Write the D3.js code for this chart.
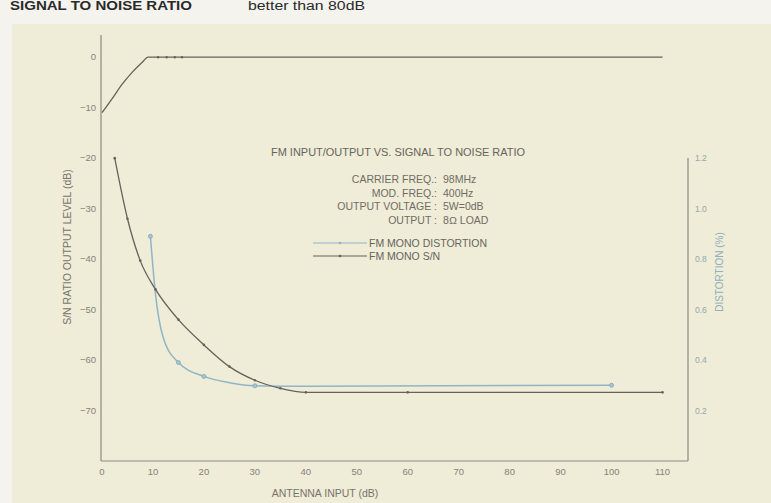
<!DOCTYPE html>
<html><head><meta charset="utf-8">
<script src="https://cdn.jsdelivr.net/npm/d3@7"></script>
<style>body{margin:0;background:#f4f3ee;} svg{display:block;}</style>
</head><body>
<script>
// ---- data ----
const xTicks = [0,10,20,30,40,50,60,70,80,90,100,110];
const yLeftTicks = [0,-10,-20,-30,-40,-50,-60,-70];
const yRightTicks = [0.2,0.4,0.6,0.8,1.0,1.2];

const ioX = [0,2,4,6,8,9,12,15,20,110];
const ioY = [-11,-8.2,-5.3,-2.9,-0.9,0,0,0,0,0];
const ioMarkX = [11,12.7,14.3,15.7];

const snX = [2.5,5,7.5,10.5,15,20,25,30,35,40,60,110];
const snY = [-20,-32,-40.3,-46,-52,-57,-61.3,-64,-65.6,-66.4,-66.4,-66.4];
const snMarkX = [2.5,5,7.5,10.5,15,20,25,30,35,40,60,110];

const distX = [9.5,10.5,12,15,20,25,30,40,100];
const distY = [0.89,0.66,0.49,0.39,0.335,0.31,0.298,0.296,0.3];
const distMarkX = [9.5,15,20,30,100];

const legendLabels = ["FM MONO DISTORTION","FM MONO S/N"];
const infoLabels = ["CARRIER FREQ.:","MOD. FREQ.:","OUTPUT VOLTAGE :","OUTPUT :"];
const infoValues = ["98MHz","400Hz","5W=0dB","8\u2126 LOAD"];

const W=771,H=503;
const svg=d3.select("body").append("svg").attr("width",W).attr("height",H);
const font="'Liberation Sans Narrow','Liberation Sans',Arial,sans-serif";

svg.append("rect").attr("width",W).attr("height",H).attr("fill","#f4f3ee");
svg.append("rect").attr("x",12).attr("y",24).attr("width",W-12).attr("height",H-24).attr("fill","#efecd7");

// header
svg.append("text").attr("x",10).attr("y",10).attr("font-family","'Liberation Sans',Arial,sans-serif")
  .attr("font-weight","bold").attr("font-size",12).attr("fill","#2a2a2a")
  .attr("textLength",182).attr("lengthAdjust","spacingAndGlyphs").text("SIGNAL TO NOISE RATIO");
svg.append("text").attr("x",248).attr("y",10).attr("font-family","'Liberation Sans',Arial,sans-serif")
  .attr("font-size",12).attr("fill","#2a2a2a")
  .attr("textLength",117).attr("lengthAdjust","spacingAndGlyphs").text("better than 80dB");

const x=d3.scaleLinear().domain([0,115]).range([102,688]);
const yL=d3.scaleLinear().domain([-80,4.4]).range([461,35]);
const yR=d3.scaleLinear().domain([0,1.2]).range([461,158]);

const axisCol="#8c8a80", labCol="#86837a", snCol="#67625b", blue="#8fb6c6";

const g=svg.append("g");
g.append("line").attr("x1",x(0)-1).attr("x2",x(0)-1).attr("y1",yL(4.4)).attr("y2",461).attr("stroke",axisCol).attr("stroke-width",1.2);
g.append("line").attr("x1",x(0)-1).attr("x2",x(115)).attr("y1",461).attr("y2",461).attr("stroke",axisCol).attr("stroke-width",1.2);
g.append("line").attr("x1",x(115)).attr("x2",x(115)).attr("y1",yR(1.2)).attr("y2",461).attr("stroke",axisCol).attr("stroke-width",1.2);

g.selectAll(".xt").data(xTicks).enter().append("text")
  .attr("x",d=>x(d)).attr("y",475).attr("text-anchor","middle")
  .attr("font-family",font).attr("font-size",9.5).attr("fill",labCol).text(d=>d);
g.selectAll(".yl").data(yLeftTicks).enter().append("text")
  .attr("x",96).attr("y",d=>yL(d)+3).attr("text-anchor","end")
  .attr("font-family",font).attr("font-size",9.5).attr("fill",labCol).text(d=>d===0?"0":"\u2212"+Math.abs(d));
g.selectAll(".yr").data(yRightTicks).enter().append("text")
  .attr("x",695).attr("y",d=>yR(d)+3).attr("text-anchor","start")
  .attr("font-family",font).attr("font-size",8.5).attr("fill","#94a8ae").text(d=>d.toFixed(1));

svg.append("text").attr("transform","translate(71,247) rotate(-90)").attr("text-anchor","middle")
  .attr("font-family",font).attr("font-size",10.5).attr("fill","#77746b").text("S/N RATIO OUTPUT LEVEL (dB)");
svg.append("text").attr("transform","translate(723,272) rotate(-90)").attr("text-anchor","middle")
  .attr("font-family",font).attr("font-size",10).attr("fill","#8fb0bd").text("DISTORTION (%)");
svg.append("text").attr("x",325).attr("y",497).attr("text-anchor","middle")
  .attr("font-family",font).attr("font-size",10.5).attr("fill","#77746b").text("ANTENNA INPUT (dB)");

const lineL=d3.line().x(d=>x(d[0])).y(d=>yL(d[1])).curve(d3.curveMonotoneX);
const lineR=d3.line().x(d=>x(d[0])).y(d=>yR(d[1])).curve(d3.curveMonotoneX);
const io=ioX.map((v,i)=>[v,ioY[i]]);
const sn=snX.map((v,i)=>[v,snY[i]]);
const dist=distX.map((v,i)=>[v,distY[i]]);

svg.append("path").attr("d",lineL(io)).attr("fill","none").attr("stroke",snCol).attr("stroke-width",1.3);
svg.append("path").attr("d",lineR(dist)).attr("fill","none").attr("stroke",blue).attr("stroke-width",1.5);
svg.append("path").attr("d",lineL(sn)).attr("fill","none").attr("stroke",snCol).attr("stroke-width",1.3);

svg.selectAll(".iom").data(ioMarkX).enter().append("circle")
  .attr("cx",d=>x(d)).attr("cy",yL(0)).attr("r",1.2).attr("fill",snCol);
svg.selectAll(".snm").data(sn.filter(d=>snMarkX.includes(d[0]))).enter().append("circle")
  .attr("cx",d=>x(d[0])).attr("cy",d=>yL(d[1])).attr("r",1.3).attr("fill",snCol);
svg.selectAll(".dm").data(dist.filter(d=>distMarkX.includes(d[0]))).enter().append("circle")
  .attr("cx",d=>x(d[0])).attr("cy",d=>yR(d[1])).attr("r",2).attr("fill","#a9c4cf").attr("stroke","#7fa6b6").attr("stroke-width",0.8);

svg.append("text").attr("x",398).attr("y",156).attr("text-anchor","middle")
  .attr("font-family",font).attr("font-size",10.5).attr("fill","#67645c")
  .attr("textLength",254).attr("lengthAdjust","spacingAndGlyphs")
  .text("FM INPUT/OUTPUT VS. SIGNAL TO NOISE RATIO");
infoLabels.forEach((t,i)=>{
  svg.append("text").attr("x",437).attr("y",183+i*13.5).attr("text-anchor","end")
    .attr("font-family",font).attr("font-size",10.5).attr("fill","#706d65").text(t);
  svg.append("text").attr("x",443).attr("y",183+i*13.5).attr("text-anchor","start")
    .attr("font-family",font).attr("font-size",10.5).attr("fill","#706d65").text(infoValues[i]);
});

const legCols=[blue,snCol];
legendLabels.forEach((t,i)=>{
  const yy=243+i*13;
  svg.append("line").attr("x1",313).attr("x2",367).attr("y1",yy).attr("y2",yy).attr("stroke",legCols[i]).attr("stroke-width",1.2);
  svg.append("circle").attr("cx",340).attr("cy",yy).attr("r",1.3).attr("fill",legCols[i]);
  svg.append("text").attr("x",369).attr("y",yy+4).attr("font-family",font).attr("font-size",10.5)
    .attr("fill","#67645c").text(t);
});
</script>
</body></html>
